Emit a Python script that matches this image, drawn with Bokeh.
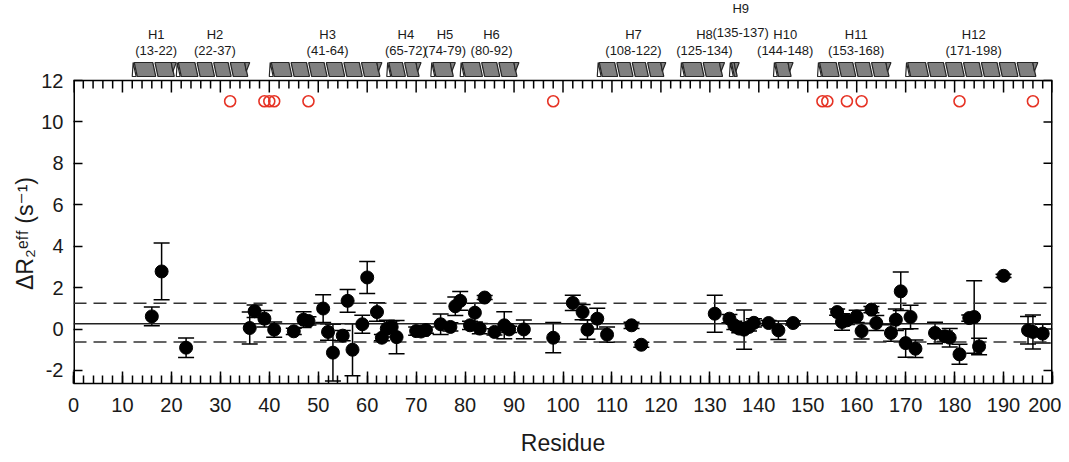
from bokeh.plotting import figure
from bokeh.models import (Range1d, FixedTicker, Whisker, TeeHead, ColumnDataSource)
from bokeh.embed import file_html
from bokeh.resources import INLINE
from bokeh.core.properties import value

# ---------------- data ----------------
residues = [16, 18, 23, 36, 37, 39, 41, 45, 47, 48, 51, 52, 53, 55, 56, 57, 59, 60,
            62, 63, 64, 65, 66, 70, 71, 72, 75, 77, 78, 79, 81, 82, 83, 84, 86, 88,
            89, 92, 98, 102, 104, 105, 107, 109, 114, 116, 131, 134, 135, 136, 137,
            138, 139, 142, 144, 147, 156, 157, 158, 160, 161, 163, 164, 167, 168,
            169, 170, 171, 172, 176, 178, 179, 181, 183, 184, 185, 190, 195, 196, 198]
delta_r2 = [0.61, 2.78, -0.90, 0.05, 0.86, 0.50, -0.03, -0.11, 0.45, 0.39, 0.99, -0.14,
            -1.14, -0.32, 1.36, -1.00, 0.23, 2.49, 0.82, -0.42, 0.02, 0.10, -0.39,
            -0.10, -0.12, -0.05, 0.23, 0.10, 1.10, 1.36, 0.18, 0.79, 0.02, 1.52, -0.14,
            0.18, -0.02, -0.02, -0.42, 1.26, 0.82, -0.03, 0.50, -0.27, 0.18, -0.76,
            0.74, 0.50, 0.18, 0.02, -0.03, 0.10, 0.30, 0.29, -0.06, 0.29, 0.82, 0.34,
            0.42, 0.61, -0.10, 0.94, 0.29, -0.19, 0.45, 1.82, -0.68, 0.58, -0.95,
            -0.19, -0.35, -0.42, -1.22, 0.53, 0.58, -0.84, 2.57, -0.06, -0.14, -0.22]
errors = [0.45, 1.37, 0.47, 0.77, 0.30, 0.40, 0.37, 0.15, 0.38, 0.20, 0.67, 0.40,
          1.37, 0.25, 0.55, 1.25, 0.43, 0.77, 0.45, 0.15, 0.40, 0.30, 0.80, 0.20,
          0.20, 0.15, 0.50, 0.20, 0.45, 0.45, 0.20, 0.45, 0.25, 0.10, 0.15, 0.65,
          0.15, 0.45, 0.73, 0.37, 0.37, 0.46, 0.50, 0.37, 0.15, 0.12, 0.89, 0.20,
          0.20, 0.20, 0.95, 0.20, 0.20, 0.12, 0.45, 0.10, 0.15, 0.40, 0.20, 0.30,
          0.38, 0.15, 0.36, 0.40, 0.52, 0.93, 0.68, 0.57, 0.42, 0.52, 0.25, 0.45,
          0.48, 0.15, 1.75, 0.40, 0.08, 0.66, 0.82, 0.45]

unassigned = [32, 39, 40, 41, 48, 98, 153, 154, 158, 161, 181, 196]
unassigned_level = 11

mean_line = 0.25
upper_line = 1.25
lower_line = -0.63

helix_names = ["H1", "H2", "H3", "H4", "H5", "H6", "H7", "H8", "H9", "H10", "H11", "H12"]
helix_start = [13, 22, 41, 65, 74, 80, 108, 125, 135, 144, 153, 171]
helix_end = [22, 37, 64, 72, 79, 92, 122, 134, 137, 148, 168, 198]

x_ticks = list(range(0, 201, 10))
x_minor = list(range(0, 201, 2))
y_ticks = list(range(-2, 13, 2))
y_tick_labels = ["-2", "0", "2", "4", "6", "8", "10", "12"]
y_top = 12

# ---------------- geometry ----------------
FONT = "Liberation Sans"
W, H = 1061, 462
LEFT = 73
FRAME_W = 979
RIGHT = W - LEFT - FRAME_W
BOTTOM = 79
FRAME_H = H - BOTTOM          # frame covers page rows 0 .. 383
BOX_TOP_PX = 80               # page row of y = 12
X0, X1 = 0, 200
Y0 = -2.63
px_x = FRAME_W / (X1 - X0)
px_y = (FRAME_H - BOX_TOP_PX) / (y_top - Y0)
Y_RANGE_TOP = Y0 + FRAME_H / px_y


def to_y(py):
    """page pixel row -> data y"""
    return Y0 + (FRAME_H - py) / px_y


p = figure(width=W, height=H, x_range=Range1d(X0, X1), y_range=Range1d(Y0, Y_RANGE_TOP),
           output_backend="svg", toolbar_location=None,
           min_border_left=LEFT, min_border_right=RIGHT,
           min_border_top=0, min_border_bottom=BOTTOM, outline_line_color=None)
p.xgrid.visible = False
p.ygrid.visible = False
p.background_fill_color = "white"
p.border_fill_color = "white"

xa = p.xaxis[0]
ya = p.yaxis[0]
xa.ticker = FixedTicker(ticks=x_ticks, minor_ticks=x_minor)
xa.major_tick_in = 12
xa.major_tick_out = 0
xa.minor_tick_in = 8
xa.minor_tick_out = 0
xa.minor_tick_line_width = 1.5
xa.minor_tick_line_color = "black"
xa.axis_line_color = "black"
xa.axis_line_width = 1.5
ya.ticker = FixedTicker(ticks=y_ticks)
ya.major_label_overrides = {t: lab for t, lab in zip(y_ticks, y_tick_labels)}
ya.major_tick_in = 9
ya.major_tick_out = 0
ya.minor_tick_line_color = None
ya.axis_line_color = None
for ax in (xa, ya):
    ax.major_tick_line_color = "black"
    ax.major_tick_line_width = 1.5
    ax.major_label_text_font = FONT
    ax.major_label_text_font_size = "20px"
    ax.major_label_text_color = "#1a1a1a"
    ax.axis_label_text_font_size = "23px"
    ax.axis_label_text_font_style = "normal"
    ax.axis_label_text_color = "#1a1a1a"
xa.major_label_standoff = 14
xa.axis_label = "Residue"
xa.axis_label_text_font = FONT
xa.axis_label_standoff = 15
ya.major_label_standoff = 10
# trailing no-break spaces push the title down to the middle of the boxed area
ya.axis_label = "\u0394R\u2082\u1d49\u1da0\u1da0 (s\u207b\u00b9)" + "\u00a0" * 13
ya.axis_label_text_font = "Liberation Sans, DejaVu Sans"
ya.axis_label_standoff = 0

# box: left/right lie on the frame edges (half clipped -> 1.5 px), top inside
p.segment(x0=[X0, X1], y0=[Y0, Y0], x1=[X0, X1], y1=[y_top, y_top],
          line_color="black", line_width=3)
p.segment(x0=[X0], y0=[y_top], x1=[X1], y1=[y_top], line_color="black", line_width=1.5)

# top and right inward ticks
p.segment(x0=x_ticks, y0=[y_top] * len(x_ticks), x1=x_ticks,
          y1=[y_top - 12 / px_y] * len(x_ticks), line_color="black", line_width=1.5)
mins = [m for m in x_minor if m not in x_ticks]
p.segment(x0=mins, y0=[y_top] * len(mins), x1=mins, y1=[y_top - 8 / px_y] * len(mins),
          line_color="black", line_width=1.5)
p.segment(x0=[X1] * len(y_ticks), y0=y_ticks, x1=[X1 - 9 / px_x] * len(y_ticks),
          y1=y_ticks, line_color="black", line_width=1.5)

# reference lines (limited to the box)
p.segment(x0=[X0], y0=[mean_line], x1=[X1], y1=[mean_line], line_color="#222222",
          line_width=1.5)
p.segment(x0=[X0, X0], y0=[upper_line, lower_line], x1=[X1, X1],
          y1=[upper_line, lower_line], line_color="#333333", line_width=1.5,
          line_dash="13 7")

# error bars and points
src = ColumnDataSource(dict(
    x=residues, y=delta_r2,
    upper=[v + e for v, e in zip(delta_r2, errors)],
    lower=[v - e for v, e in zip(delta_r2, errors)]))
p.add_layout(Whisker(base="x", upper="upper", lower="lower", source=src,
                     line_color="black", line_width=1.5,
                     upper_head=TeeHead(size=16, line_color="black", line_width=1.5),
                     lower_head=TeeHead(size=16, line_color="black", line_width=1.5)))
p.scatter("x", "y", source=src, marker="circle", size=13, fill_color="black",
          line_color="black")

p.scatter(unassigned, [unassigned_level] * len(unassigned), marker="circle", size=11,
          fill_color=None, line_color="#e63325", line_width=1.6)

# ---------------- helix header (above the box) ----------------
yb, yt = to_y(76), to_y(62)
sl = 3 / px_x
gap = 2.2 / px_x
seg_xs, seg_ys, tri_xs, tri_ys, flag_xs, flag_ys = [], [], [], [], [], []
lab_x, lab_y, lab_t = [], [], []
for name, s, e in zip(helix_names, helix_start, helix_end):
    a = s - 1.0
    b = e - 1.0
    n = max(1, round((e - s) / 3.75))
    body0 = a + 5 / px_x
    body1 = b - 2 / px_x
    w = (body1 - body0) / n
    tri_xs.append([a, body0 - gap * 0.5, body0 - gap * 0.5 - sl])
    tri_ys.append([yb, yb, yt])
    for i in range(n):
        x0 = body0 + i * w + (gap if i > 0 else 0)
        x1 = body0 + (i + 1) * w
        seg_xs.append([x0, x1, x1 - sl, x0 - sl])
        seg_ys.append([yb, yb, yt, yt])
    fx = body1 - sl
    flag_xs.append([fx, fx + 5 / px_x, fx + 1.5 / px_x])
    flag_ys.append([yt, yt, to_y(62 + 9)])
    raised = (e - s) < 4
    cx = (s + e) / 2 + (0.3 if raised else -0.6)
    lab_x += [cx, cx]
    lab_y += [to_y(8), to_y(32)] if raised else [to_y(34), to_y(50)]
    lab_t += [name, "(%d-%d)" % (s, e)]

p.patches(seg_xs, seg_ys, fill_color="#808080", line_color="#262626", line_width=1.2)
p.patches(flag_xs, flag_ys, fill_color="#808080", line_color="#262626", line_width=1.2)
p.patches(tri_xs, tri_ys, fill_color="white", line_color="#262626", line_width=1.2)
p.text(lab_x, lab_y, text=lab_t, text_font=value(FONT), text_font_size="13px",
       text_align="center", text_baseline="middle", text_color="#1a1a1a")

open("out.html", "w").write(file_html(p, INLINE))
